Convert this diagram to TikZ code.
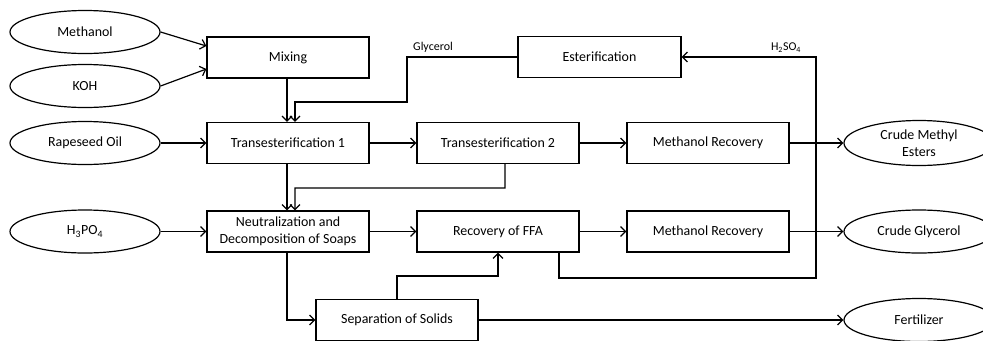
\documentclass[tikz,border=0pt]{standalone}
\usepackage{fontspec}
\setmainfont{Carlito}
\usetikzlibrary{shapes.geometric,arrows.meta}
\begin{document}
\begin{tikzpicture}[x=1bp,y=-1bp,
  box/.style={draw, line width=1.2bp, minimum width=162bp, minimum height=41bp, inner sep=1bp,
    font=\fontsize{14}{17}\selectfont, align=center},
  oval/.style={draw, ellipse, line width=1.2bp, minimum width=150bp, minimum height=43bp, inner sep=0pt,
    font=\fontsize{14}{17}\selectfont, align=center},
  arr/.style={-{Straight Barb[length=5bp,width=10bp,line width=1.2bp]}, line width=1.2bp},
  lbl/.style={font=\fontsize{12}{13}\selectfont, inner sep=0pt}
]
\useasboundingbox (0,0) rectangle (983,340);

% inputs
\node[oval] (meth) at (85,32) {Methanol};
\node[oval] (koh) at (85,86) {KOH};
\node[oval] (rape) at (85,143) {Rapeseed Oil};
\node[oval] (hpo) at (85,231.5) {H\textsubscript{3}PO\textsubscript{4}};

% process boxes
\node[box] (mix) at (288,57.5) {Mixing};
\node[box, minimum width=163bp] (ester) at (599.5,57) {Esterification};
\node[box] (t1) at (288,143) {Transesterification 1};
\node[box] (t2) at (498,143) {Transesterification 2};
\node[box] (mr1) at (708,143) {Methanol Recovery};
\node[box] (neut) at (288,231.5) {Neutralization and\\Decomposition of Soaps};
\node[box] (ffa) at (498,231.5) {Recovery of FFA};
\node[box] (mr2) at (708,231.5) {Methanol Recovery};
\node[box] (sep) at (397,320) {Separation of Solids};

% outputs
\node[oval, minimum height=45bp] (cme) at (919,143) {Crude Methyl\\Esters};
\node[oval] (cg) at (919,231.5) {Crude Glycerol};
\node[oval] (fert) at (919,320) {Fertilizer};

% labels
\node[lbl] (lglyc) at (433,47) {Glycerol};
\node[lbl] (lh2so4) at (786,48) {H\textsubscript{2}SO\textsubscript{4}};

% bend coordinates
\coordinate (g1) at (407,102);
\coordinate (t2n) at (505,188);
\coordinate (sf) at (397,276);
\coordinate (h1) at (816,278);

% connectors
\draw[arr] (meth.east) -- ([yshift=11.5bp]mix.west);
\draw[arr] (koh.east) -- ([yshift=-11.5bp]mix.west);
\draw[arr] ([xshift=-1bp]mix.south) -- ([xshift=-1bp]t1.north);
\draw[arr] (ester.west) -| (g1) -| ([xshift=7bp]t1.north);
\draw[arr] (rape) -- (t1);
\draw[arr] (t1) -- (t2);
\draw[arr] (t2) -- (mr1);
\draw[arr] (mr1.east) -- (cme.west);
\draw[arr] ([xshift=-1bp]t1.south) -- ([xshift=-1bp]neut.north);
\draw[arr] ([xshift=7bp]t2.south) -- (t2n) -| ([xshift=7bp]neut.north);
\draw[arr] (hpo) -- (neut);
\draw[arr] (neut) -- (ffa);
\draw[arr] (ffa) -- (mr2);
\draw[arr] (mr2.east) -- (cg.west);
\draw[arr] ([xshift=-1bp]neut.south) |- (sep.west);
\draw[arr] (sep.north) -- (sf) -| (ffa.south);
\draw[arr] (sep.east) -- (fert.west);
\draw[arr] ([xshift=61bp]ffa.south) |- (h1) |- (ester.east);
\end{tikzpicture}
\end{document}
